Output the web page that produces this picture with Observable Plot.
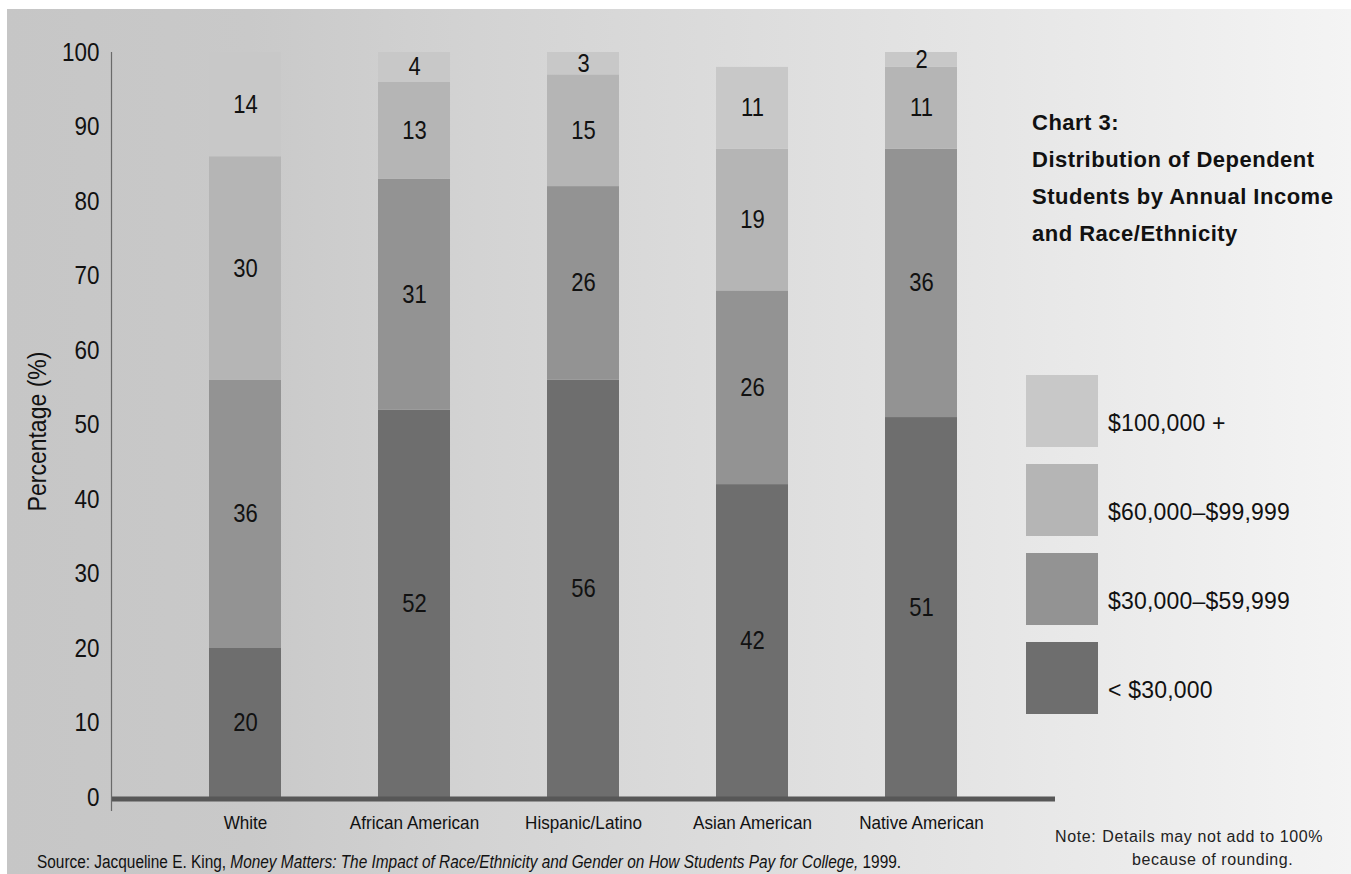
<!DOCTYPE html>
<html>
<head>
<meta charset="utf-8">
<script src="https://cdn.jsdelivr.net/npm/d3@7"></script>
<script src="https://cdn.jsdelivr.net/npm/@observablehq/plot@0.6"></script>
<style>
  html, body { margin: 0; padding: 0; background: #fff; }
  #page {
    position: relative; width: 1351px; height: 874px; overflow: hidden;
    font-family: "Liberation Sans", Arial, Helvetica, sans-serif; color: #111;
  }
  #backdrop {
    position: absolute; left: 7px; top: 9px; right: 0; bottom: 0;
    background: linear-gradient(to right, #c6c6c6 0%, #c9c9c9 18%, #d3d3d3 35%, #e0e0e0 62%, #e6e6e6 74%, #f4f4f4 100%);
  }
  #chart { position: absolute; left: 0; top: 0; }
  #title {
    position: absolute; left: 1032px; top: 104px;
    font-weight: bold; font-size: 22px; line-height: 37px; letter-spacing: 0.5px; color: #111;
  }
  #legend { position: absolute; left: 1026px; top: 375px; }
  .item { position: relative; height: 89px; }
  .swatch { position: absolute; left: 0; top: 0; width: 72px; height: 72px; }
  .item-label {
    position: absolute; left: 82px; top: 37px; font-size: 23px; line-height: 23px;
    white-space: nowrap; color: #111; letter-spacing: 0.2px;
  }
  #note {
    position: absolute; left: 1055px; top: 825px; display: flex;
    font-size: 16px; line-height: 23px; letter-spacing: 0.6px; color: #222;
  }
  #note .lead { margin-right: 6px; }
  #note .body { text-align: center; }
  #source {
    position: absolute; left: 37px; top: 851px; font-size: 18px; line-height: 22px;
    white-space: nowrap; transform: scaleX(0.855); transform-origin: left center; color: #111;
  }
</style>
</head>
<body>
<div id="page">
  <div id="backdrop"></div>
  <div id="chart"></div>
  <div id="title"></div>
  <div id="legend"></div>
  <div id="note"><span class="lead">Note:</span><div class="body">Details may not add to 100%<br>because of rounding.</div></div>
  <div id="source">Source: Jacqueline E. King, <i>Money Matters: The Impact of Race/Ethnicity and Gender on How Students Pay for College,</i> 1999.</div>
</div>
<script>
// Categories and income brackets (bottom of each stack first)
const races = ["White", "African American", "Hispanic/Latino", "Asian American", "Native American"];
const brackets = ["< $30,000", "$30,000\u2013$59,999", "$60,000\u2013$99,999", "$100,000 +"];

// Percent of dependent students in each bracket, per race/ethnicity
const under30k = [20, 52, 56, 42, 51];
const from30to60k = [36, 31, 26, 26, 36];
const from60to100k = [30, 13, 15, 19, 11];
const over100k = [14, 4, 3, 11, 2];

const bracketColors = ["#6e6e6e", "#939393", "#b5b5b5", "#c8c8c8"];
const yTicks = [0, 10, 20, 30, 40, 50, 60, 70, 80, 90, 100];

const titleLines = ["Chart 3:", "Distribution of Dependent", "Students by Annual Income", "and Race/Ethnicity"];

const series = [under30k, from30to60k, from60to100k, over100k];
const rows = races.flatMap((race, i) =>
  brackets.map((bracket, j) => ({race, bracket, value: series[j][i]}))
);

const fontFamily = '"Liberation Sans", Arial, Helvetica, sans-serif';

const chart = Plot.plot({
  width: 1351,
  height: 874,
  marginLeft: 111,
  marginRight: 296,
  marginTop: 52,
  marginBottom: 64,
  style: {background: "transparent", fontFamily, color: "#111", overflow: "visible"},
  x: {domain: races, paddingInner: 0.576, paddingOuter: 0.566, label: null},
  y: {domain: [0, 100], range: [797, 52], label: null},
  color: {domain: brackets, range: bracketColors},
  marks: [
    Plot.barY(rows, {x: "race", y: "value", fill: "bracket"}),
    Plot.text(rows, Plot.stackY({x: "race", y: "value", z: "bracket", text: "value", fontSize: 25, fill: "#111"})),
    Plot.ruleY([0], {stroke: "#575757", strokeWidth: 5, dy: 1.5}),
    Plot.frame({anchor: "left", stroke: "#6a6a6a", strokeWidth: 1.2}),
    Plot.axisY({
      ticks: yTicks, tickSize: 0, tickPadding: 12, fontSize: 25,
      label: "Percentage (%)", labelAnchor: "center", labelArrow: "none", labelOffset: 83
    }),
    Plot.axisX({tickSize: 0, tickPadding: 5, fontSize: 19, label: null})
  ]
});

document.getElementById("chart").append(chart);

// Narrow the chart lettering a little, like a condensed face
const squeeze = [["y-axis tick label", 0.9], ["x-axis tick label", 0.9], ["y-axis label", 0.92], ["text", 0.88]];
for (const [name, k] of squeeze) {
  chart.querySelectorAll(`g[aria-label="${name}"] text`).forEach((t) => {
    const w = t.getComputedTextLength();
    if (w > 0) {
      t.setAttribute("textLength", (w * k).toFixed(1));
      t.setAttribute("lengthAdjust", "spacingAndGlyphs");
    }
  });
}

// Title
document.getElementById("title").innerHTML = titleLines.map((s) => `<div>${s}</div>`).join("");

// Legend, top bracket first
const legend = document.getElementById("legend");
brackets.map((b, i) => [b, bracketColors[i]]).reverse().forEach(([b, c]) => {
  const item = document.createElement("div");
  item.className = "item";
  const sw = document.createElement("div");
  sw.className = "swatch";
  sw.style.background = c;
  const lab = document.createElement("div");
  lab.className = "item-label";
  lab.textContent = b;
  item.append(sw, lab);
  legend.append(item);
});
</script>
</body>
</html>
